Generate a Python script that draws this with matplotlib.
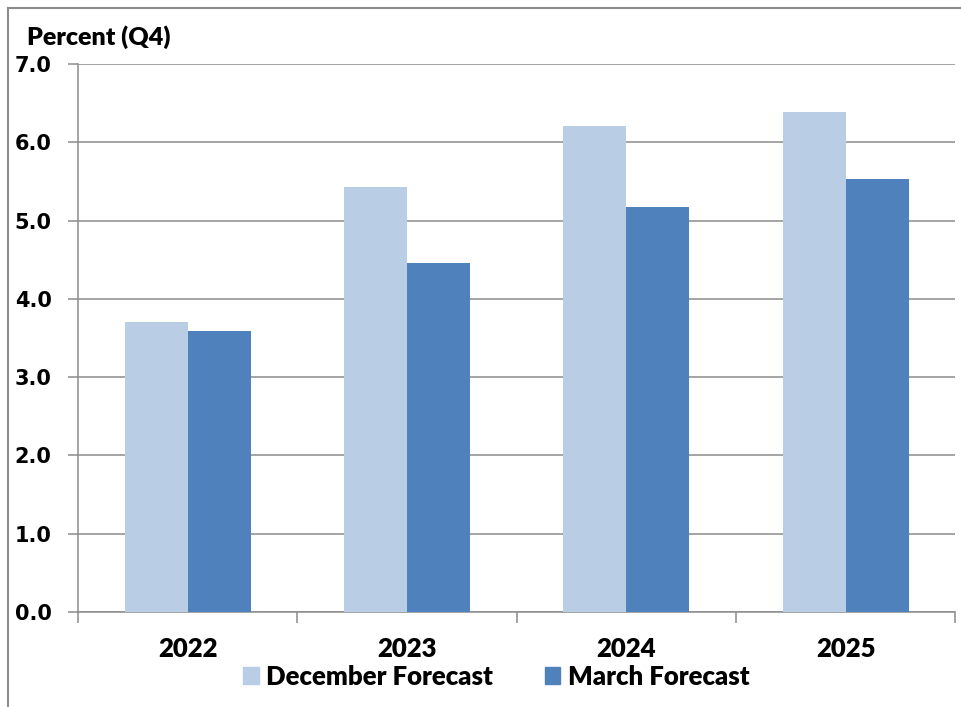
import numpy as np
import matplotlib.pyplot as plt
from matplotlib.patches import Patch
from matplotlib.lines import Line2D

# data
years = ['2022', '2023', '2024', '2025']
december = [3.70, 5.43, 6.21, 6.39]
march = [3.59, 4.46, 5.17, 5.53]
yticks = [0.0, 1.0, 2.0, 3.0, 4.0, 5.0, 6.0, 7.0]

light = '#B9CDE5'
dark = '#4F81BD'
grid_c = '#8C8C8C'
lab_font = dict(family='Lato', weight='heavy')

fig = plt.figure(figsize=(9.62, 7.07), dpi=100)
ax = fig.add_axes([0.081, 0.1344, 0.912, 0.7751])

x = np.arange(len(years))
w = 0.2875
ax.bar(x - w / 2, december, w, color=light, zorder=3)
ax.bar(x + w / 2, march, w, color=dark, zorder=3)

ax.set_xlim(-0.5, len(years) - 0.5)
ax.set_ylim(0, 7)
ax.set_yticks(yticks)
ax.set_yticklabels([f'{v:.1f}' for v in yticks], fontfamily='DejaVu Sans',
                   fontweight='bold', fontsize=15)
ax.yaxis.grid(True, color=grid_c, linewidth=1.1, zorder=0)
ax.tick_params(axis='y', length=7, width=1.1, color=grid_c, pad=12)

ax.set_xticks(x)
ax.set_xticklabels(years, fontfamily=lab_font['family'], fontweight=lab_font['weight'],
                   fontsize=18.5)
ax.set_xticks(np.arange(len(years) + 1) - 0.5, minor=True)
ax.tick_params(axis='x', which='major', length=0, pad=18)
ax.tick_params(axis='x', which='minor', length=8, width=1.1, color=grid_c)

for s in ['top', 'right']:
    ax.spines[s].set_visible(False)
for s in ['left', 'bottom']:
    ax.spines[s].set_color(grid_c)
    ax.spines[s].set_linewidth(1.1)

fig.text(0.028, 0.948, 'Percent (Q4)', fontfamily=lab_font['family'],
         fontweight=lab_font['weight'], fontsize=18, va='center', ha='left')

handles = [Patch(color=light, label='December Forecast'),
           Patch(color=dark, label='March Forecast')]
fig.legend(handles=handles, loc='center', bbox_to_anchor=(0.516, 0.043), ncol=2,
           frameon=False, prop={'family': lab_font['family'], 'weight': lab_font['weight'],
                                'size': 18.5},
           handlelength=0.6, handleheight=0.65, handletextpad=0.3, columnspacing=2.0)

# outer frame lines
fig.add_artist(Line2D([0.0083, 1.0], [0.9887, 0.9887], color=grid_c, linewidth=1.5))
fig.add_artist(Line2D([0.0083, 0.0083], [0.0, 0.9887], color=grid_c, linewidth=1.5))

fig.savefig('out.png', dpi=100)
